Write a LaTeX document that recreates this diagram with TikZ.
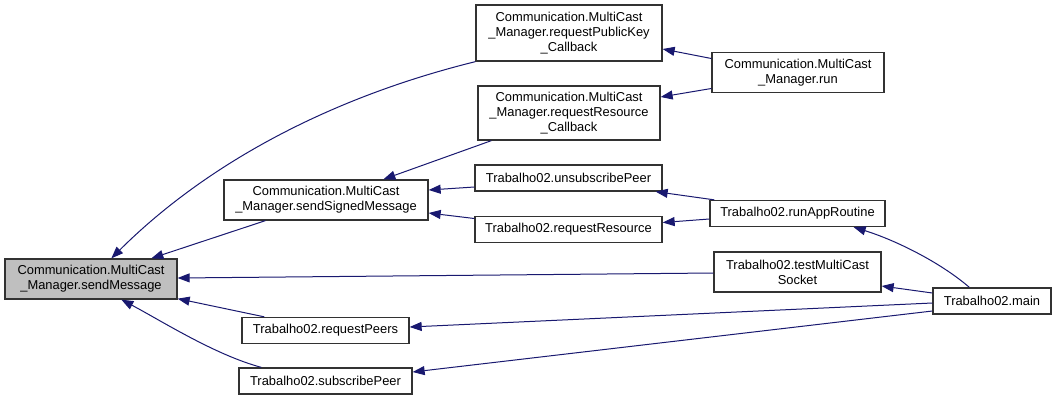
\documentclass[tikz,border=0pt]{standalone}
\usepackage{fontspec}
\setmainfont{Liberation Sans}
\usetikzlibrary{arrows.meta}
\definecolor{edgecol}{RGB}{25,25,112}
\definecolor{boxline}{RGB}{50,50,50}
\definecolor{hilite}{RGB}{191,191,191}
\begin{document}
\begin{tikzpicture}[x=1pt,y=-1pt,
  fn/.style={draw=boxline, line width=1.3pt, fill=white, inner sep=0pt, align=center,
    font=\fontsize{12.9pt}{14.8pt}\selectfont},
  cur/.style={fn, fill=hilite},
  edge/.style={draw=edgecol, line width=1pt, -{Triangle[length=12pt,width=9pt]}}]
\useasboundingbox (0,0) rectangle (1056,400);
\fill[white] (0,0) rectangle (1056,400);
% nodes
\node[cur, minimum width=172pt, minimum height=40pt] (sm) at (91,279) {Communication.MultiCast\\\_Manager.sendMessage};
\node[fn, minimum width=204pt, minimum height=40pt] (ssm) at (326,200) {Communication.MultiCast\\\_Manager.sendSignedMessage};
\node[fn, minimum width=186pt, minimum height=56pt] (rpk) at (569,33) {Communication.MultiCast\\\_Manager.requestPublicKey\\\_Callback};
\node[fn, minimum width=182pt, minimum height=54pt] (rrc) at (569,113) {Communication.MultiCast\\\_Manager.requestResource\\\_Callback};
\node[fn, minimum width=172pt, minimum height=40pt] (run) at (798,72.5) {Communication.MultiCast\\\_Manager.run};
\node[fn, minimum width=187pt, minimum height=26pt] (unsub) at (568.5,178) {Trabalho02.unsubscribePeer};
\node[fn, minimum width=187pt, minimum height=26pt] (rres) at (568.5,229.5) {Trabalho02.requestResource};
\node[fn, minimum width=175pt, minimum height=26pt] (rar) at (797.5,213.5) {Trabalho02.runAppRoutine};
\node[fn, minimum width=167pt, minimum height=40pt] (tms) at (797.5,272) {Trabalho02.testMultiCast\\Socket};
\node[fn, minimum width=118pt, minimum height=26pt] (main) at (992,301) {Trabalho02.main};
\node[fn, minimum width=167pt, minimum height=26pt] (rp) at (325.5,330.5) {Trabalho02.requestPeers};
\node[fn, minimum width=173pt, minimum height=26pt] (sp) at (325.5,381) {Trabalho02.subscribePeer};
% edges
\draw[edge] (rpk.south west) .. controls (320,100) and (200,170) .. ([shift={(107,0)}]sm.north west);
\draw[edge] ([shift={(42,0)}]ssm.south west) -- ([shift={(147,0)}]sm.north west);
\draw[edge] ([shift={(14,0)}]rrc.south west) -- ([shift={(160,0)}]ssm.north west);
\draw[edge] ([shift={(0,9)}]unsub.west) -- ([shift={(0,-10)}]ssm.east);
\draw[edge] ([shift={(0,-11)}]rres.west) -- ([shift={(0,13)}]ssm.east);
\draw[edge] ([shift={(0,1)}]tms.west) -- ([shift={(0,-1)}]sm.east);
\draw[edge] ([shift={(23,0)}]rp.north west) -- ([shift={(0,-1)}]sm.south east);
\draw[edge] ([shift={(23,0)}]sp.north west) .. controls (215,355) and (160,320) .. ([shift={(117,0)}]sm.south west);
\draw[edge] ([shift={(0,-14)}]run.west) -- ([shift={(0,16)}]rpk.east);
\draw[edge] ([shift={(0,16)}]run.west) -- ([shift={(0,-16)}]rrc.east);
\draw[edge] ([shift={(5,0)}]rar.north west) -- ([shift={(-7,0)}]unsub.south east);
\draw[edge] ([shift={(0,5.5)}]rar.west) -- ([shift={(0,-7)}]rres.east);
\draw[edge] ([shift={(37,0)}]main.north west) .. controls (940,262) and (895,240) .. ([shift={(-32,0)}]rar.south east);
\draw[edge] ([shift={(0,-8)}]main.west) -- ([shift={(0,14)}]tms.east);
\draw[edge] ([shift={(0,2)}]main.west) -- ([shift={(0,-3.5)}]rp.east);
\draw[edge] ([shift={(0,10)}]main.west) -- ([shift={(0,-9)}]sp.east);
\end{tikzpicture}
\end{document}
